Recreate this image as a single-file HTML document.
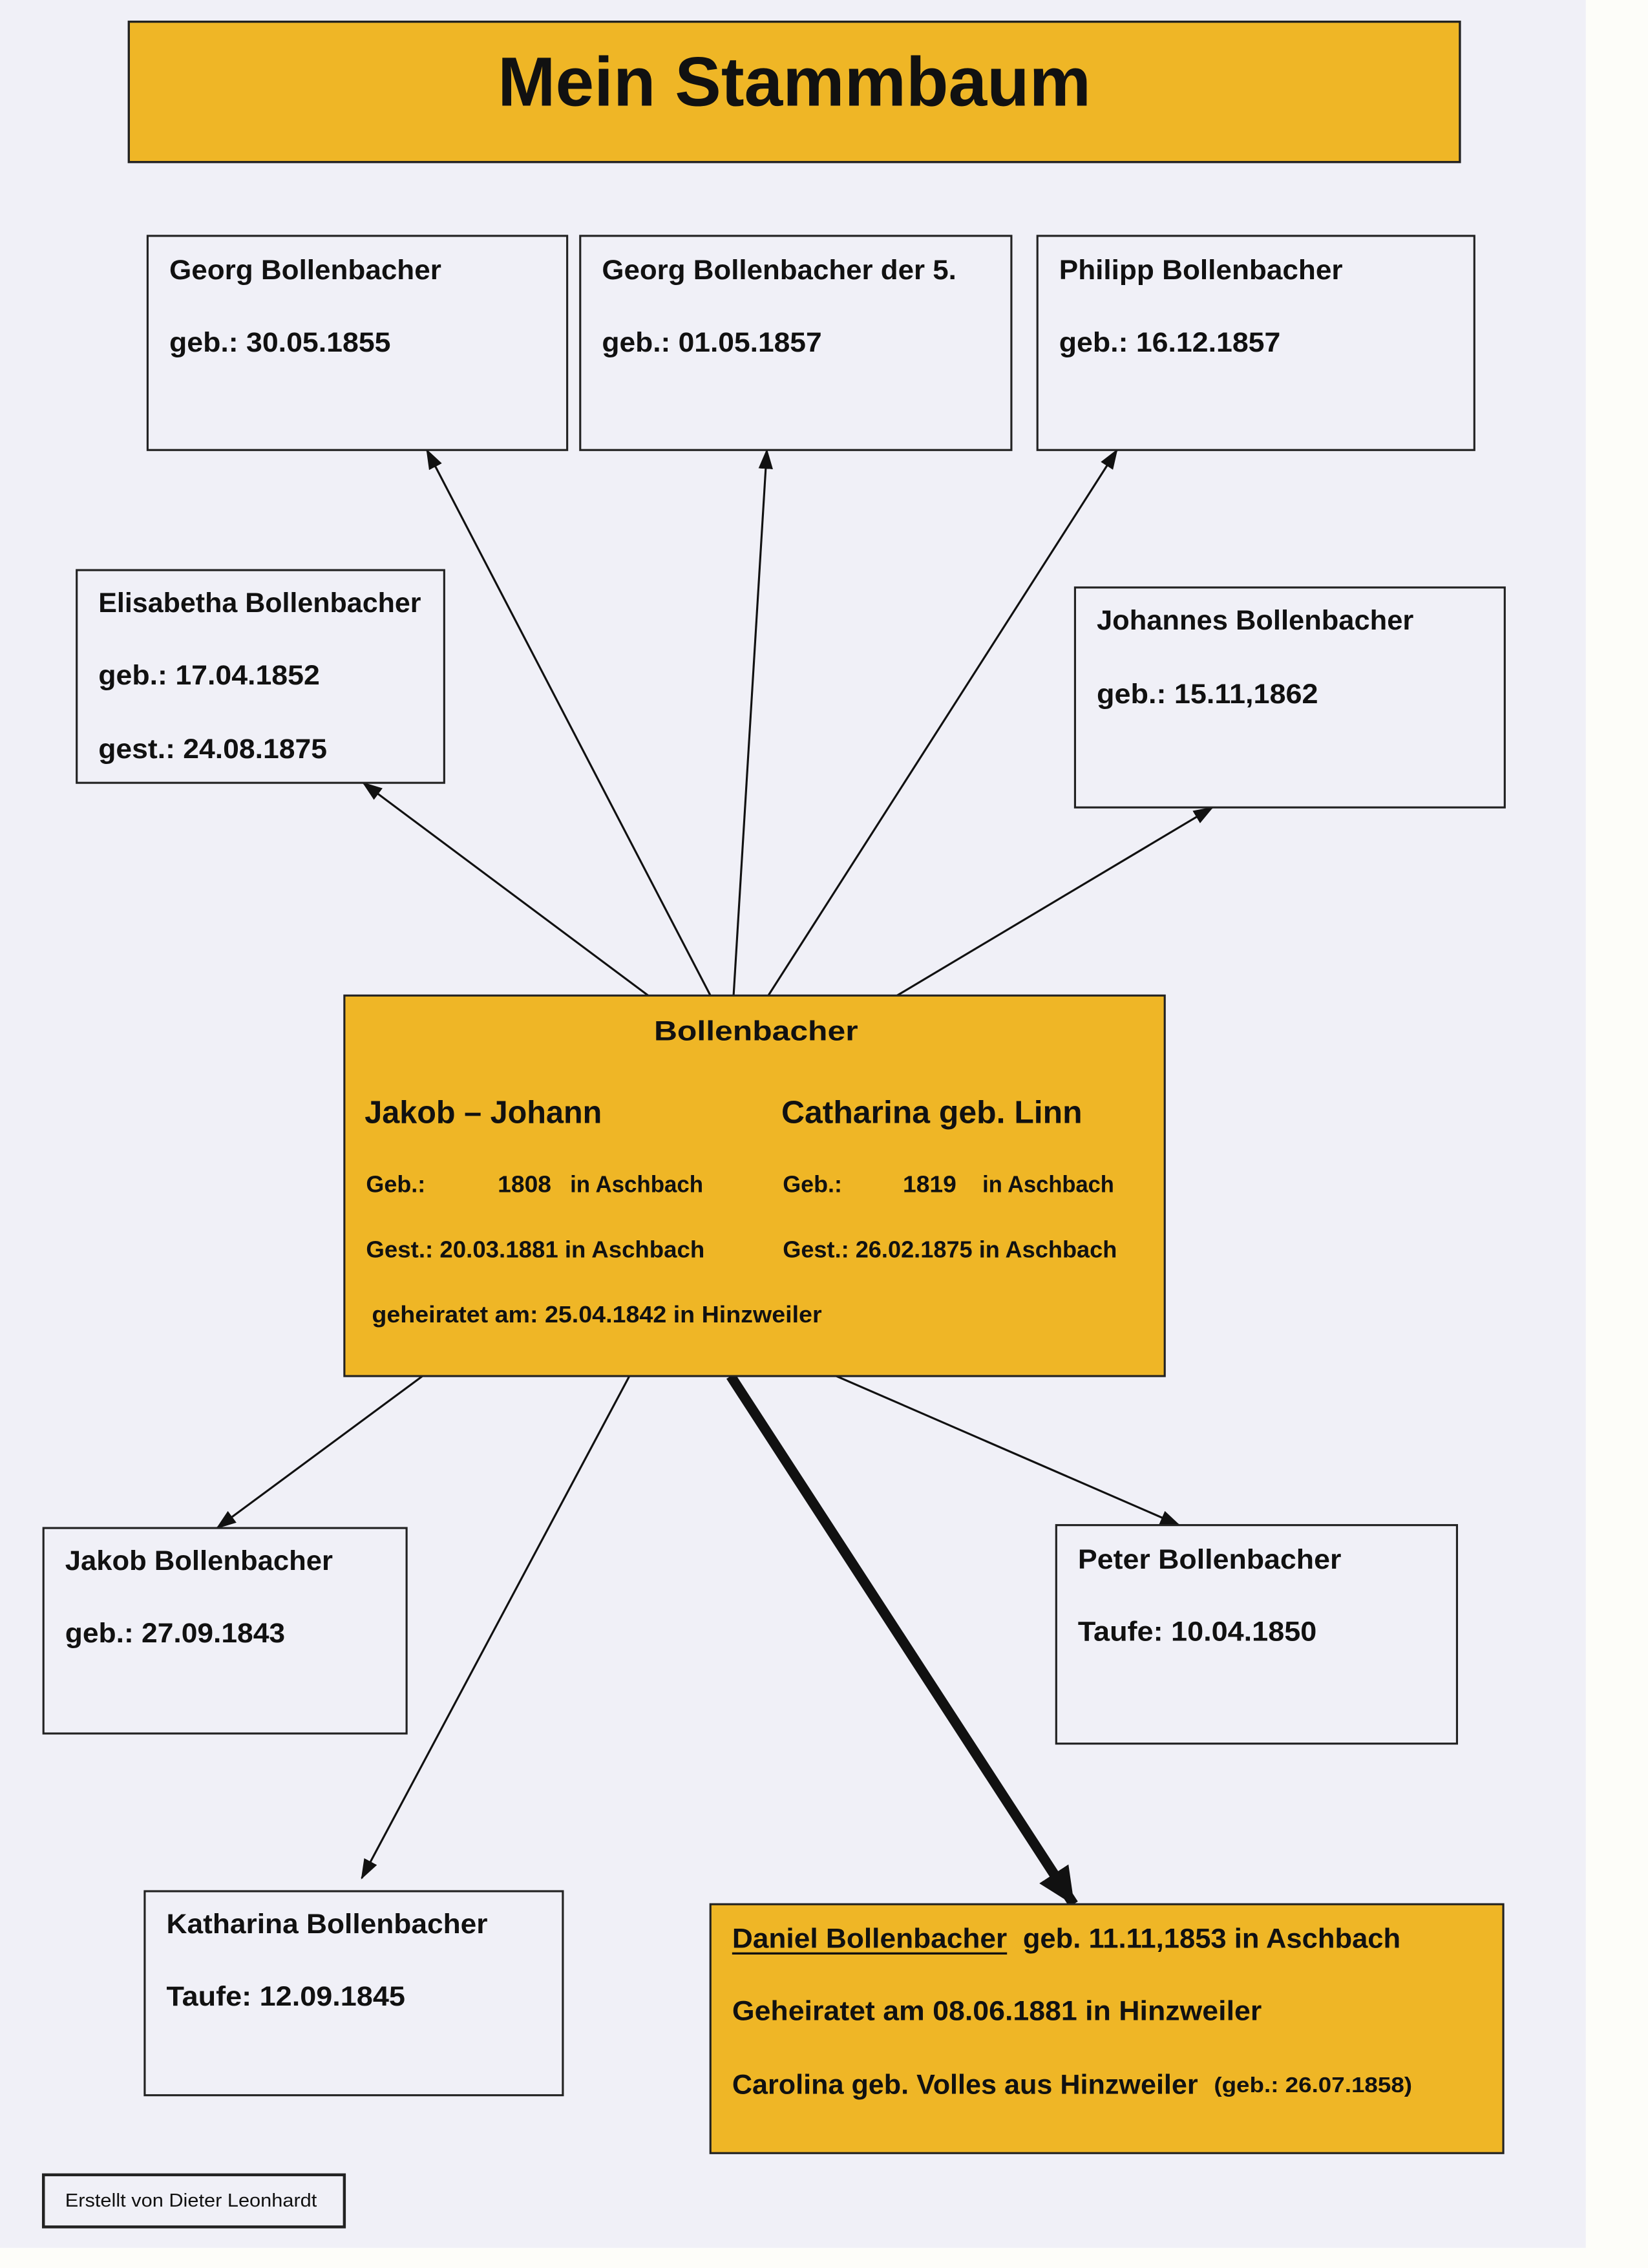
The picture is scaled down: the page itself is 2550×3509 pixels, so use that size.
<!DOCTYPE html>
<html><head><meta charset="utf-8"><style>
html,body{margin:0;padding:0;background:#fdfdf9;}
svg{display:block;}
text{font-family:"Liberation Sans",sans-serif;font-weight:bold;fill:#111;}
</style></head><body>
<svg width="2550" height="3509" viewBox="0 0 1139 1567.4" xmlns="http://www.w3.org/2000/svg">
<defs>
<marker id="a" markerUnits="userSpaceOnUse" markerWidth="14" markerHeight="10" refX="13" refY="5" orient="auto"><path d="M0,0 L14,5 L0,10 Z" fill="#111"/></marker>
<marker id="b" markerUnits="userSpaceOnUse" markerWidth="26" markerHeight="24" refX="25" refY="12" orient="auto"><path d="M0,0 L26,12 L0,24 Z" fill="#111"/></marker>
</defs>
<rect x="0" y="0" width="1139" height="1567.4" fill="#fdfdf9"/>
<rect x="0" y="0" width="1096" height="1553.5" fill="#f0f0f7"/>

<!-- title -->
<rect x="89" y="15" width="920" height="97" fill="#efb626" stroke="#222" stroke-width="1.5"/>
<text x="344" y="73" font-size="48" textLength="410" lengthAdjust="spacingAndGlyphs">Mein  Stammbaum</text>

<!-- connectors -->
<g stroke="#111" stroke-width="1.4" fill="none">
<line x1="448" y1="688" x2="251" y2="541" marker-end="url(#a)"/>
<line x1="491" y1="688" x2="295" y2="311" marker-end="url(#a)"/>
<line x1="507" y1="688" x2="530" y2="311" marker-end="url(#a)"/>
<line x1="531" y1="688" x2="772" y2="311" marker-end="url(#a)"/>
<line x1="620" y1="688" x2="838" y2="558" marker-end="url(#a)"/>
<line x1="292" y1="951" x2="150" y2="1056" marker-end="url(#a)"/>
<line x1="435" y1="951" x2="250" y2="1298" marker-end="url(#a)"/>
<line x1="578" y1="951" x2="815" y2="1054" marker-end="url(#a)"/>
<line x1="505" y1="951" x2="742" y2="1316" stroke-width="7" marker-end="url(#b)"/>
</g>

<!-- boxes -->
<g fill="#f0f0f7" stroke="#222" stroke-width="1.4">
<rect x="102" y="163" width="290" height="148"/>
<rect x="401" y="163" width="298" height="148"/>
<rect x="717" y="163" width="302" height="148"/>
<rect x="53" y="394" width="254" height="147"/>
<rect x="743" y="406" width="297" height="152"/>
<rect x="30" y="1056" width="251" height="142"/>
<rect x="730" y="1054" width="277" height="151"/>
<rect x="100" y="1307" width="289" height="141"/>
<rect x="30" y="1503" width="208" height="36" stroke-width="2"/>
</g>
<g fill="#efb626" stroke="#222" stroke-width="1.4">
<rect x="238" y="688" width="567" height="263"/>
<rect x="491" y="1316" width="548" height="172"/>
</g>

<g font-size="19" lengthAdjust="spacingAndGlyphs">
<text x="117" y="193" textLength="188" lengthAdjust="spacingAndGlyphs">Georg  Bollenbacher</text>
<text x="117" y="243" textLength="153" lengthAdjust="spacingAndGlyphs">geb.: 30.05.1855</text>
<text x="416" y="193" textLength="245" lengthAdjust="spacingAndGlyphs">Georg  Bollenbacher der 5.</text>
<text x="416" y="243" textLength="152" lengthAdjust="spacingAndGlyphs">geb.: 01.05.1857</text>
<text x="732" y="193" textLength="196" lengthAdjust="spacingAndGlyphs">Philipp  Bollenbacher</text>
<text x="732" y="243" textLength="153" lengthAdjust="spacingAndGlyphs">geb.: 16.12.1857</text>
<text x="68" y="423" textLength="223" lengthAdjust="spacingAndGlyphs">Elisabetha Bollenbacher</text>
<text x="68" y="473" textLength="153" lengthAdjust="spacingAndGlyphs">geb.: 17.04.1852</text>
<text x="68" y="524" textLength="158" lengthAdjust="spacingAndGlyphs">gest.: 24.08.1875</text>
<text x="758" y="435" textLength="219" lengthAdjust="spacingAndGlyphs">Johannes  Bollenbacher</text>
<text x="758" y="486" textLength="153" lengthAdjust="spacingAndGlyphs">geb.: 15.11,1862</text>

<text x="452" y="719" textLength="141" lengthAdjust="spacingAndGlyphs">Bollenbacher</text>
<text x="252" y="776" font-size="22" textLength="164" lengthAdjust="spacingAndGlyphs">Jakob – Johann</text>
<text x="540" y="776" font-size="22" textLength="208" lengthAdjust="spacingAndGlyphs">Catharina geb. Linn</text>
<text x="253" y="824" font-size="16" textLength="41" lengthAdjust="spacingAndGlyphs">Geb.:</text>
<text x="344" y="824" font-size="16" textLength="37" lengthAdjust="spacingAndGlyphs">1808</text>
<text x="394" y="824" font-size="16" textLength="92" lengthAdjust="spacingAndGlyphs">in Aschbach</text>
<text x="541" y="824" font-size="16" textLength="41" lengthAdjust="spacingAndGlyphs">Geb.:</text>
<text x="624" y="824" font-size="16" textLength="37" lengthAdjust="spacingAndGlyphs">1819</text>
<text x="679" y="824" font-size="16" textLength="91" lengthAdjust="spacingAndGlyphs">in Aschbach</text>
<text x="253" y="869" font-size="16" textLength="234" lengthAdjust="spacingAndGlyphs">Gest.: 20.03.1881  in Aschbach</text>
<text x="541" y="869" font-size="16" textLength="231" lengthAdjust="spacingAndGlyphs">Gest.: 26.02.1875 in Aschbach</text>
<text x="257" y="914" font-size="16" textLength="311" lengthAdjust="spacingAndGlyphs">geheiratet  am: 25.04.1842 in Hinzweiler</text>

<text x="45" y="1085" textLength="185" lengthAdjust="spacingAndGlyphs">Jakob  Bollenbacher</text>
<text x="45" y="1135" textLength="152" lengthAdjust="spacingAndGlyphs">geb.: 27.09.1843</text>
<text x="745" y="1084" textLength="182" lengthAdjust="spacingAndGlyphs">Peter  Bollenbacher</text>
<text x="745" y="1134" textLength="165" lengthAdjust="spacingAndGlyphs">Taufe: 10.04.1850</text>
<text x="115" y="1336" textLength="222" lengthAdjust="spacingAndGlyphs">Katharina  Bollenbacher</text>
<text x="115" y="1386" textLength="165" lengthAdjust="spacingAndGlyphs">Taufe: 12.09.1845</text>

<text x="506" y="1346" textLength="190" lengthAdjust="spacingAndGlyphs">Daniel  Bollenbacher</text>
<line x1="506" y1="1350" x2="696" y2="1350" stroke="#111" stroke-width="1.5"/>
<text x="707" y="1346" textLength="261" lengthAdjust="spacingAndGlyphs">geb. 11.11,1853 in Aschbach</text>
<text x="506" y="1396" textLength="366" lengthAdjust="spacingAndGlyphs">Geheiratet am 08.06.1881 in Hinzweiler</text>
<text x="506" y="1447" textLength="322" lengthAdjust="spacingAndGlyphs">Carolina geb. Volles aus Hinzweiler</text>
<text x="839" y="1446" font-size="15" textLength="137" lengthAdjust="spacingAndGlyphs">(geb.: 26.07.1858)</text>

<text x="45" y="1525" font-size="13" font-weight="normal" style="font-weight:normal" textLength="174" lengthAdjust="spacingAndGlyphs">Erstellt von Dieter Leonhardt</text>
</g>
</svg>
</body></html>
